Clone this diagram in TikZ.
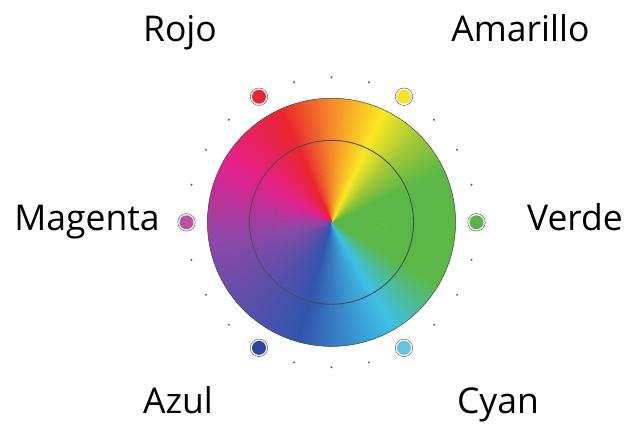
\documentclass[tikz,border=0pt]{standalone}
\usepackage{fontspec}
\setmainfont{Open Sans}
\usetikzlibrary{calc}
\definecolor{WheelRed}{RGB}{233,38,48}
\definecolor{WheelOrange}{RGB}{244,140,40}
\definecolor{WheelYellow}{RGB}{250,232,35}
\definecolor{WheelLime}{RGB}{160,200,55}
\definecolor{WheelGreen}{RGB}{92,184,70}
\definecolor{WheelCyan}{RGB}{62,192,232}
\definecolor{WheelBlue}{RGB}{50,85,172}
\definecolor{WheelPurple}{RGB}{140,72,168}
\definecolor{WheelMagenta}{RGB}{228,32,140}
\definecolor{DotRed}{RGB}{226,40,52}
\definecolor{DotYellow}{RGB}{246,226,40}
\definecolor{DotGreen}{RGB}{90,180,70}
\definecolor{DotCyan}{RGB}{100,198,222}
\definecolor{DotBlue}{RGB}{44,70,160}
\definecolor{DotMagenta}{RGB}{186,82,162}
\tikzset{
  colorname/.style={font=\fontsize{35.5}{40}\selectfont,anchor=base,inner sep=0pt},
  colordot/.style={circle,draw=gray!75!black,line width=0.5pt,fill=white,
    minimum size=17.5pt,inner sep=0pt,
    path picture={\fill[#1] (path picture bounding box.center) circle (7pt);}},
  tickdot/.style={fill=gray!70!black}
}

\begin{document}
\begin{tikzpicture}[x=1pt,y=1pt]
  \useasboundingbox (0,0) rectangle (629,423);
  \coordinate (c) at (331.5,200.7);
  % colour wheel
  \begin{scope}[shift={(c)}]
    \foreach \a/\b/\ca/\cb in {-30/25/WheelGreen/WheelGreen,25/45/WheelGreen/WheelLime,
        45/65/WheelLime/WheelYellow,65/90/WheelYellow/WheelOrange,90/115/WheelOrange/WheelRed,
        115/150/WheelRed/WheelMagenta,150/190/WheelMagenta/WheelPurple,190/255/WheelPurple/WheelBlue,
        255/300/WheelBlue/WheelCyan,300/330/WheelCyan/WheelGreen}{
      \foreach \t [evaluate=\t as \p using {int(100*(\t-\a)/(\b-\a))}] in {\a,...,\b}{
        \filldraw[\cb!\p!\ca,line width=0.3pt] (0,0) -- (\t-0.7:124) arc[start angle=\t-0.7,end angle=\t+0.7,radius=124] -- cycle;
      }
    }
    \draw[gray!60!black,line width=0.5pt] (0,0) circle (124);
    \draw[black!70,line width=0.9pt] (0,0) circle (82);
    % small ticks
    \foreach \t in {0,15,...,345}{
      \pgfmathtruncatemacro\m{mod(\t,60)}
      \ifnum\m>0 \fill[tickdot] (\t:145) circle (1.1pt);\fi
    }
  \end{scope}
  % colour dots
  \node[colordot=DotGreen]   (pVerde)    at ($(c)+(0:145)$)   {};
  \node[colordot=DotYellow]  (pAmarillo) at ($(c)+(60:145)$)  {};
  \node[colordot=DotRed]     (pRojo)     at ($(c)+(120:145)$) {};
  \node[colordot=DotMagenta] (pMagenta)  at ($(c)+(180:145)$) {};
  \node[colordot=DotBlue]    (pAzul)     at ($(c)+(240:145)$) {};
  \node[colordot=DotCyan]    (pCyan)     at ($(c)+(300:145)$) {};
  % labels
  \node[colorname] (rojo)     at (180,381.5) {Rojo};
  \node[colorname] (amarillo) at (520.5,381.5) {Amarillo};
  \node[colorname] (magenta)  at (87,192) {Magenta};
  \node[colorname] (verde)    at (575,192) {Verde};
  \node[colorname] (azul)     at (178,10) {Azul};
  \node[colorname] (cyan)     at (498,10) {Cyan};
\end{tikzpicture}
\end{document}
